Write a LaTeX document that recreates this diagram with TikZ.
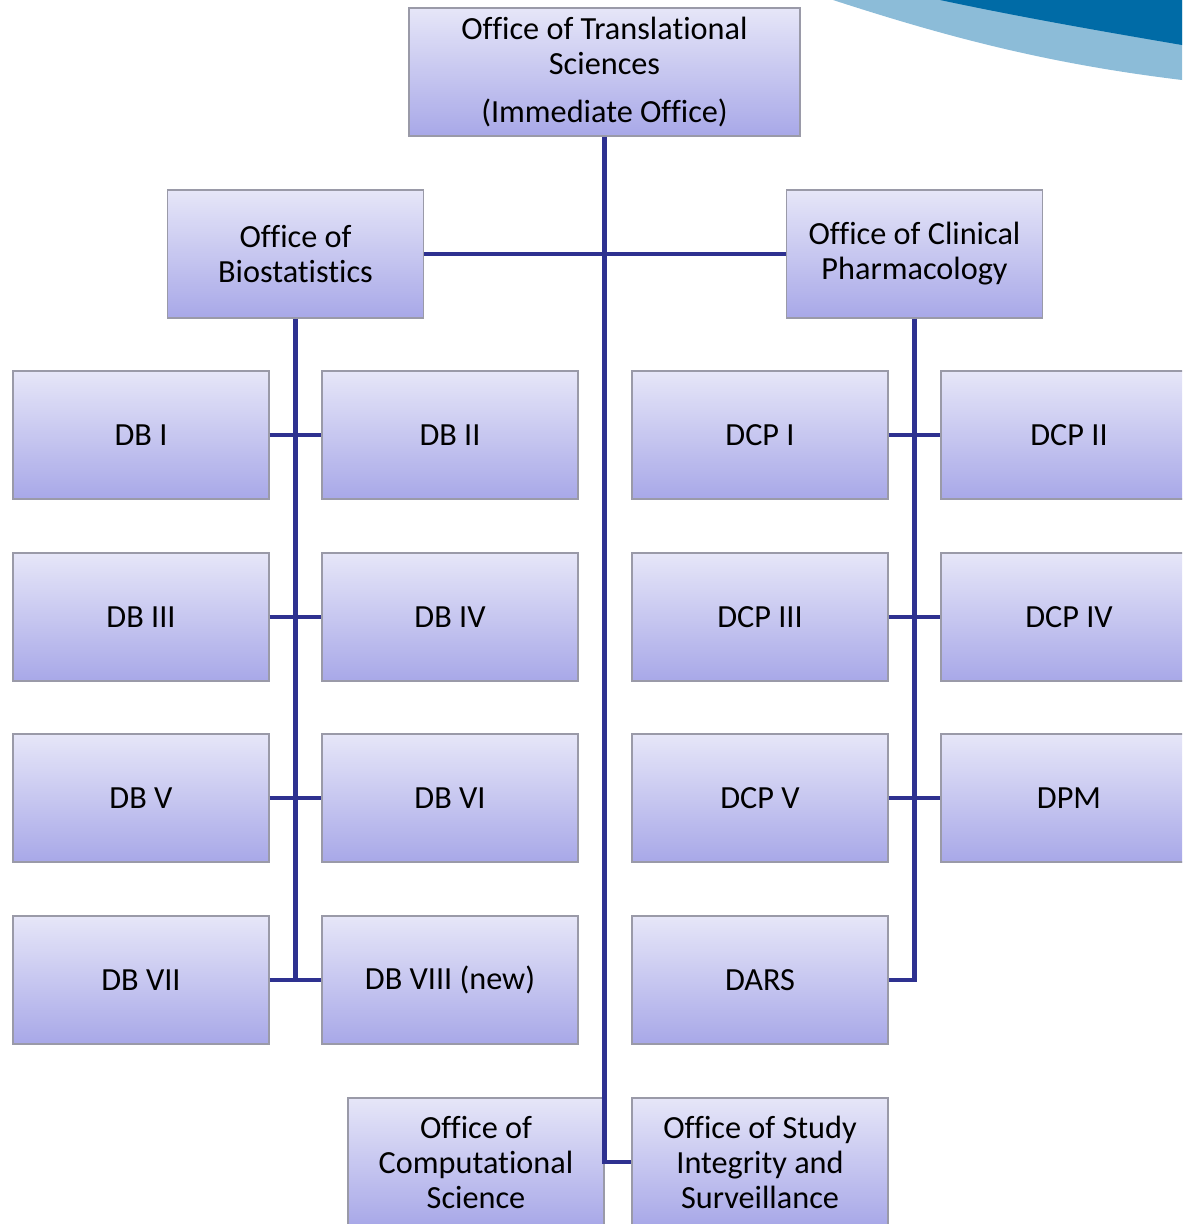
\documentclass[tikz,border=0pt]{standalone}
\usepackage{fontspec}
\setmainfont{Carlito}[Ligatures={NoCommon}]
\definecolor{boxtop}{HTML}{E6E6F8}
\definecolor{boxbot}{HTML}{A8A8E8}
\definecolor{boxline}{HTML}{9A9AA8}
\definecolor{conncol}{HTML}{2E3190}
\definecolor{swdark}{HTML}{006BA6}
\definecolor{swlight}{HTML}{8CBCD8}
\tikzset{
  orgbox/.style={rectangle, draw=boxline, line width=0.8pt, top color=boxtop, bottom color=boxbot,
    minimum width=192pt, minimum height=96pt, inner sep=0pt, align=center,
    font=\fontsize{24.2}{26.25}\selectfont},
  conn/.style={draw=conncol, line width=3.4pt, line join=miter}
}
\begin{document}
\begin{tikzpicture}[x=0.75pt,y=-0.75pt]
\useasboundingbox (0,0) rectangle (1182,1224);
\clip (0,0) rectangle (1182,1224);
% swoosh
\fill[swlight] (833,0) .. controls (950,38) and (1050,64) .. (1182,80) -- (1182,0) -- cycle;
\fill[swdark] (940,0) .. controls (1020,17) and (1100,31) .. (1182,45) -- (1182,0) -- cycle;
% boxes
\node[orgbox, minimum width=293.25pt] (top) at (604.5,72) {Office of Translational\\Sciences\\[10pt](Immediate Office)};
\node[orgbox] (ob) at (295.5,254) {Office of\\Biostatistics};
\node[orgbox] (ocp) at (914.5,254) {Office of Clinical\\Pharmacology};
\node[orgbox] (db1) at (141,435) {DB I};
\node[orgbox] (db2) at (450,435) {DB II};
\node[orgbox] (db3) at (141,617) {DB III};
\node[orgbox] (db4) at (450,617) {DB IV};
\node[orgbox] (db5) at (141,798) {DB V};
\node[orgbox] (db6) at (450,798) {DB VI};
\node[orgbox] (db7) at (141,980) {DB VII};
\node[orgbox] (db8) at (450,980) {DB VIII (new)};
\node[orgbox] (dcp1) at (760,435) {DCP I};
\node[orgbox] (dcp2) at (1069,435) {DCP II};
\node[orgbox] (dcp3) at (760,617) {DCP III};
\node[orgbox] (dcp4) at (1069,617) {DCP IV};
\node[orgbox] (dcp5) at (760,798) {DCP V};
\node[orgbox] (dpm) at (1069,798) {DPM};
\node[orgbox] (dars) at (760,980) {DARS};
\node[orgbox] (ocs) at (476,1162) {Office of\\Computational\\Science};
\node[orgbox] (osis) at (760,1162) {Office of Study\\Integrity and\\Surveillance};
% connectors
\draw[conn] (top.south) -- (top.south |- osis.west) -- (osis.west);
\draw[conn] (ob.east) -- (ocp.west);
\draw[conn] (ob.south) -- (ob.south |- db7.east);
\draw[conn] (db1.east) -- (db2.west);
\draw[conn] (db3.east) -- (db4.west);
\draw[conn] (db5.east) -- (db6.west);
\draw[conn] (db7.east) -- (db8.west);
\draw[conn] (ocp.south) -- (ocp.south |- dars.east) -- (dars.east);
\draw[conn] (dcp1.east) -- (dcp2.west);
\draw[conn] (dcp3.east) -- (dcp4.west);
\draw[conn] (dcp5.east) -- (dpm.west);
\end{tikzpicture}
\end{document}
